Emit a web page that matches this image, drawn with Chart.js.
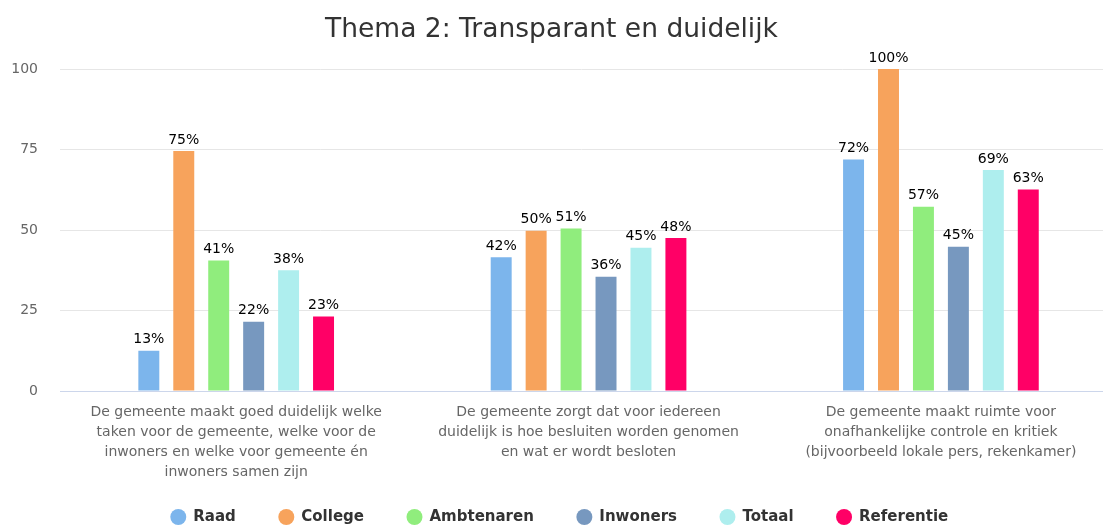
<!DOCTYPE html>
<html>
<head>
<meta charset="utf-8">
<script src="https://cdn.jsdelivr.net/npm/chart.js@4.4.1/dist/chart.umd.min.js"></script>
<style>
  html, body { margin: 0; padding: 0; background: #fff; overflow: hidden; }
</style>
</head>
<body>
<canvas id="chart" width="1103" height="526"></canvas>
<script>
// Thema 2 - gegevens
const categories = [
  ["De gemeente maakt goed duidelijk welke", "taken voor de gemeente, welke voor de", "inwoners en welke voor gemeente én", "inwoners samen zijn"],
  ["De gemeente zorgt dat voor iedereen", "duidelijk is hoe besluiten worden genomen", "en wat er wordt besloten"],
  ["De gemeente maakt ruimte voor", "onafhankelijke controle en kritiek", "(bijvoorbeeld lokale pers, rekenkamer)"]
];
const seriesNames = ["Raad", "College", "Ambtenaren", "Inwoners", "Totaal", "Referentie"];
const raad = [12.5, 41.5, 71.9];
const college = [74.5, 49.8, 100];
const ambtenaren = [40.5, 50.5, 57.2];
const inwoners = [21.5, 35.5, 44.8];
const totaal = [37.5, 44.5, 68.6];
const referentie = [23.1, 47.5, 62.6];
const yTicks = [0, 25, 50, 75, 100];

const seriesValues = [raad, college, ambtenaren, inwoners, totaal, referentie];
const colors = ["#7cb5ec", "#f7a35c", "#90ed7d", "#7798bf", "#aeeeee", "#ff0066"];
const FONT = "'DejaVu Sans', sans-serif";
const LEGEND_PAD = 43;

// percentages boven de staven
const barLabels = {
  id: "barLabels",
  afterDatasetsDraw(chart) {
    const ctx = chart.ctx;
    ctx.save();
    ctx.font = "14px " + FONT;
    ctx.fillStyle = "#000";
    ctx.textAlign = "center";
    ctx.textBaseline = "middle";
    chart.data.datasets.forEach((ds, i) => {
      chart.getDatasetMeta(i).data.forEach((bar, j) => {
        ctx.fillText(Math.round(ds.data[j].y) + "%", bar.x, bar.y - 11);
      });
    });
    ctx.restore();
  }
};

// legenda: vaste hoogte, daarna op de juiste plek zetten
const legendSpot = {
  id: "legendSpot",
  beforeInit(chart) {
    const fit = chart.legend.fit;
    chart.legend.fit = function () {
      fit.bind(chart.legend)();
      this.height = 33;
    };
  },
  afterLayout(chart) {
    const lg = chart.legend;
    lg.top = 517 - 7.5 - LEGEND_PAD;
    lg.bottom = 526;
    lg.left += 8;
    lg.right += 8;
  }
};

new Chart(document.getElementById("chart"), {
  type: "bar",
  data: {
    datasets: seriesNames.map((name, i) => ({
      label: name,
      data: seriesValues[i].map((v, j) => ({ x: j, y: v })),
      backgroundColor: colors[i],
      borderWidth: 0,
      categoryPercentage: 0.595,
      barPercentage: 0.6
    }))
  },
  options: {
    responsive: false,
    animation: false,
    devicePixelRatio: 1,
    layout: { padding: 0 },
    scales: {
      x: {
        type: "linear",
        min: -0.5,
        max: 2.46,
        offset: false,
        afterBuildTicks(scale) {
          scale.ticks = categories.map((c, i) => ({ value: i }));
        },
        ticks: {
          callback: (v) => categories[v],
          color: "#666",
          font: { family: FONT, size: 14, lineHeight: 20 / 14 },
          padding: 11,
          autoSkip: false,
          maxRotation: 0,
          minRotation: 0
        },
        grid: { display: false, drawTicks: false },
        border: { display: true, color: "#ccd6eb", width: 1 }
      },
      y: {
        min: 0,
        max: 100,
        afterBuildTicks(scale) {
          scale.ticks = yTicks.map(v => ({ value: v }));
        },
        afterFit(scale) {
          scale.width = 60;
        },
        ticks: {
          color: "#666",
          font: { family: FONT, size: 14 },
          padding: 22
        },
        grid: {
          color: (c) => c.tick && c.tick.value === 0 ? "#ccd6eb" : "#e6e6e6",
          drawTicks: false
        },
        border: { display: false }
      }
    },
    plugins: {
      title: {
        display: true,
        text: "Thema 2: Transparant en duidelijk",
        color: "#333",
        font: { family: FONT, size: 26.5, weight: "normal" },
        padding: { top: 14, bottom: 23.2 }
      },
      legend: {
        position: "bottom",
        labels: {
          usePointStyle: true,
          pointStyle: "circle",
          boxWidth: 15,
          boxHeight: 11.3,
          padding: LEGEND_PAD,
          color: "#333",
          font: { family: FONT, size: 15, weight: "bold" }
        }
      },
      tooltip: { enabled: false }
    }
  },
  plugins: [barLabels, legendSpot]
});
</script>
</body>
</html>
